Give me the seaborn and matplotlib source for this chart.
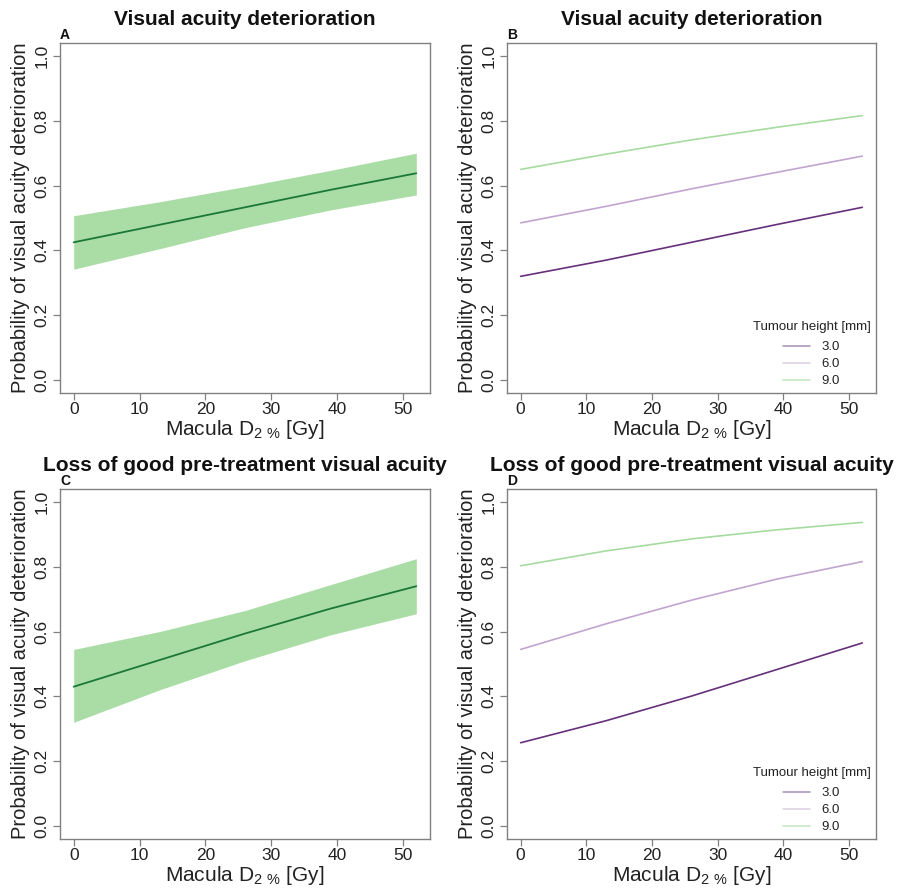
import numpy as np
import pandas as pd
import matplotlib
matplotlib.use("Agg")
import matplotlib.pyplot as plt
from matplotlib.lines import Line2D
import seaborn as sns

sns.set_theme(style="white")
plt.rcParams['font.family'] = ['Liberation Sans', 'DejaVu Sans']

# ---------------- data ----------------
dose = [0, 13, 26, 39, 52]

# Panel A: visual acuity deterioration (overall)
a_fit = [0.425, 0.479, 0.533, 0.587, 0.638]
a_upper = [0.507, 0.550, 0.597, 0.647, 0.700]
a_lower = [0.342, 0.405, 0.470, 0.525, 0.571]

# Panel B: by tumour height
b_h30 = [0.320, 0.370, 0.425, 0.480, 0.533]
b_h60 = [0.485, 0.536, 0.590, 0.641, 0.691]
b_h90 = [0.650, 0.697, 0.741, 0.780, 0.816]

# Panel C: loss of good pre-treatment visual acuity
c_fit = [0.430, 0.512, 0.594, 0.671, 0.740]
c_upper = [0.545, 0.600, 0.665, 0.745, 0.825]
c_lower = [0.320, 0.420, 0.510, 0.590, 0.655]

# Panel D: by tumour height
d_h30 = [0.257, 0.325, 0.401, 0.483, 0.565]
d_h60 = [0.545, 0.624, 0.697, 0.762, 0.816]
d_h90 = [0.803, 0.849, 0.886, 0.914, 0.937]

heights = ["3.0", "6.0", "9.0"]
height_colors = ["#66307a", "#c2a5cf", "#a6dba0"]
legend_colors = ["#a490b4", "#dccfe0", "#c4e6c0"]

titles = ["Visual acuity deterioration", "Visual acuity deterioration",
          "Loss of good pre-treatment visual acuity",
          "Loss of good pre-treatment visual acuity"]
panel_letters = ["A", "B", "C", "D"]
xlabel = r"Macula D$_{\mathregular{2\ \%}}$ [Gy]"
ylabel = "Probability of visual acuity deterioration"
xticks = [0, 10, 20, 30, 40, 50]
yticks = [0.0, 0.2, 0.4, 0.6, 0.8, 1.0]
ytick_labels = ["0.0", "0.2", "0.4", "0.6", "0.8", "1.0"]

# ---------------- figure ----------------
W, H = 898, 888
fig = plt.figure(figsize=(W / 100, H / 100), dpi=100)

def frac(left, top, right, bottom):
    return [left / W, 1 - bottom / H, (right - left) / W, (bottom - top) / H]

axA = fig.add_axes(frac(60, 43, 430, 393))
axB = fig.add_axes(frac(507, 43, 876, 393))
axC = fig.add_axes(frac(60, 489, 430, 839))
axD = fig.add_axes(frac(507, 489, 876, 839))
axes = [axA, axB, axC, axD]

def band_panel(ax, fit, lower, upper):
    ax.fill_between(dose, lower, upper, color="#a6dba0", alpha=0.95, linewidth=0)
    df = pd.DataFrame({"dose": dose, "p": fit})
    sns.lineplot(data=df, x="dose", y="p", ax=ax, color="#1b7837", linewidth=1.3)

def height_panel(ax, s30, s60, s90):
    df = pd.DataFrame({
        "dose": dose * 3,
        "p": s30 + s60 + s90,
        "height": [heights[0]] * 5 + [heights[1]] * 5 + [heights[2]] * 5,
    })
    sns.lineplot(data=df, x="dose", y="p", hue="height", hue_order=heights,
                 palette=height_colors, ax=ax, linewidth=1.2, legend=False)
    handles = [Line2D([0], [0], color=c, lw=1.1) for c in legend_colors]
    leg = ax.legend(handles, heights, title="Tumour height [mm]", loc="lower right",
                    bbox_to_anchor=(1.0, 0.0), frameon=False, fontsize=9.5,
                    title_fontsize=9.5, handlelength=2.0, handletextpad=0.9,
                    labelspacing=0.36, alignment="center", borderaxespad=0.02)
    leg._legend_box.sep = 6
    for t in leg.get_texts():
        t.set_color("#222222")
    leg.get_title().set_color("#222222")

band_panel(axA, a_fit, a_lower, a_upper)
height_panel(axB, b_h30, b_h60, b_h90)
band_panel(axC, c_fit, c_lower, c_upper)
height_panel(axD, d_h30, d_h60, d_h90)

for ax, title, letter in zip(axes, titles, panel_letters):
    ax.set_xlim(-2.08, 54.08)
    ax.set_ylim(-0.04, 1.04)
    ax.set_xticks(xticks)
    ax.set_yticks(yticks)
    ax.set_yticklabels(ytick_labels)
    ax.tick_params(axis="both", which="major", direction="out", length=5,
                   width=0.9, color="#808080", labelsize=12.5, labelcolor="#222222",
                   bottom=True, left=True)
    ax.tick_params(axis="x", pad=1.5)
    ax.tick_params(axis="y", pad=2.5, labelrotation=90)
    for lab in ax.get_yticklabels():
        lab.set_va("center")
    for sp in ax.spines.values():
        sp.set_color("#808080")
        sp.set_linewidth(1.0)
    ax.set_xlabel(xlabel, fontsize=15, color="#222222", labelpad=1)
    ax.set_ylabel(ylabel, fontsize=14.5, color="#222222", labelpad=3)
    ax.set_title(title, fontsize=15, fontweight="bold", pad=13, color="#111111")
    ax.text(0.0, 1.004, letter, transform=ax.transAxes, ha="left", va="bottom",
            fontsize=10, fontweight="bold", color="#111111")
    ax.grid(False)

fig.savefig("out.png", dpi=100, facecolor="white")
